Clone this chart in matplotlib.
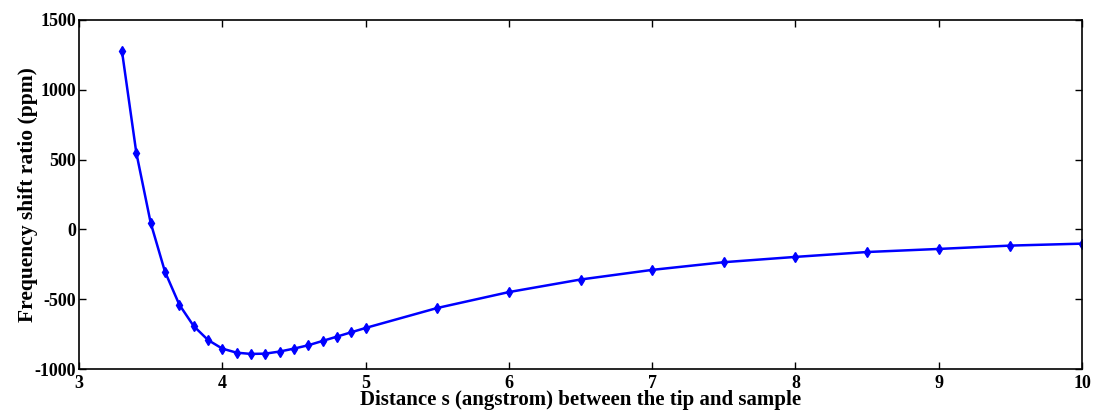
import matplotlib
matplotlib.use("Agg")
import matplotlib.pyplot as plt

# distance between tip and sample (angstrom)
distance = [3.3, 3.4, 3.5, 3.6, 3.7, 3.8, 3.9, 4.0, 4.1, 4.2, 4.3, 4.4, 4.5,
            4.6, 4.7, 4.8, 4.9, 5.0, 5.5, 6.0, 6.5, 7.0, 7.5, 8.0, 8.5, 9.0,
            9.5, 10.0]
# frequency shift ratio (ppm)
shift_ppm = [1276, 549, 48, -303, -539, -692, -792, -854, -883, -892, -890,
             -875, -854, -830, -799, -768, -737, -706, -563, -449, -359, -290,
             -235, -197, -162, -140, -116, -102]

x_ticks = [3, 4, 5, 6, 7, 8, 9, 10]
y_ticks = [-1000, -500, 0, 500, 1000, 1500]

plt.rcParams["font.family"] = "Liberation Serif"
plt.rcParams["font.weight"] = "bold"
plt.rcParams["axes.unicode_minus"] = False

fig = plt.figure(figsize=(10.93, 4.11), dpi=100)
ax = fig.add_axes([79 / 1093, 1 - 369 / 411, (1082 - 79) / 1093, (369 - 20) / 411])

ax.plot(distance, shift_ppm, color="#0000ff", linewidth=1.8,
        marker="d", markersize=5)

ax.set_xlim(3, 10)
ax.set_ylim(-1000, 1500)
ax.set_xticks(x_ticks)
ax.set_yticks(y_ticks)
ax.tick_params(direction="in", top=True, right=True, length=5, width=1,
               labelsize=13)
ax.tick_params(axis="x", pad=4)
ax.tick_params(axis="y", pad=2)
for lbl in ax.get_xticklabels() + ax.get_yticklabels():
    lbl.set_fontweight("bold")
for sp in ax.spines.values():
    sp.set_linewidth(1.2)

ax.set_xlabel("Distance s (angstrom) between the tip and sample",
              fontsize=15, fontweight="bold")
ax.xaxis.set_label_coords(0.5, -0.06)
ax.set_ylabel("Frequency shift ratio (ppm)", fontsize=15.5, fontweight="bold",
              labelpad=-2)

fig.savefig("out.png", dpi=100)
